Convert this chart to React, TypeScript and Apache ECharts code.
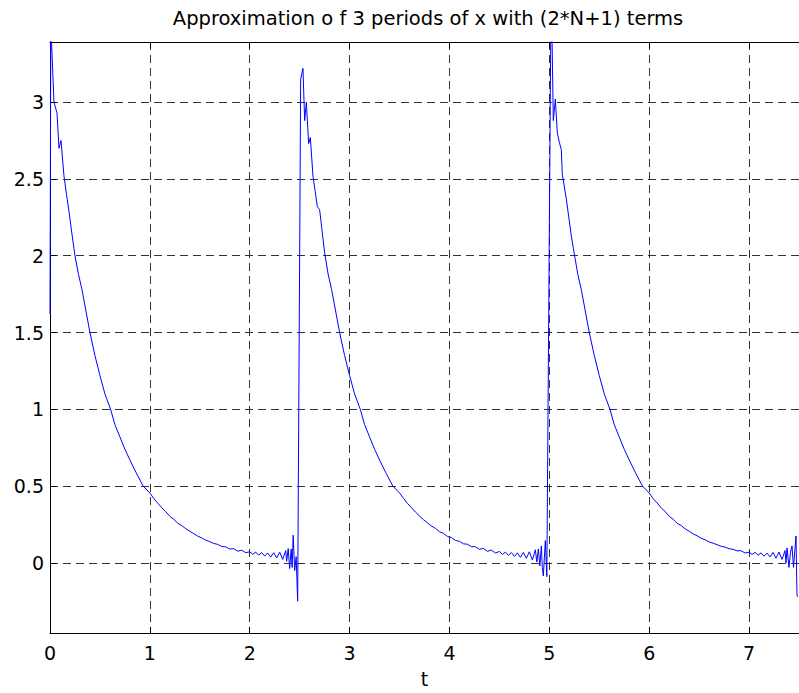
import React, { useEffect, useRef } from "react";
import * as echarts from "echarts";

const titleText = "Approximation o f 3 periods of x with (2*N+1) terms";
const xAxisName = "t";

// [t, x(t)] samples, one array per period
const period1: [number, number][] = [
  [0, 1.62], [0.008, 3.5], [0.02, 3.32], [0.04, 3.0], [0.07, 2.93], [0.09, 2.7],
  [0.11, 2.75], [0.14, 2.52], [0.165, 2.4], [0.19, 2.29], [0.22, 2.14], [0.25, 2.0],
  [0.285, 1.88], [0.32, 1.78], [0.36, 1.64], [0.4, 1.5], [0.45, 1.35], [0.5, 1.22],
  [0.55, 1.1], [0.607, 1.0], [0.65, 0.9], [0.7, 0.82], [0.75, 0.74], [0.8, 0.67],
  [0.86, 0.59], [0.933, 0.5], [1.0, 0.455], [1.04, 0.418], [1.08, 0.388], [1.12, 0.358],
  [1.16, 0.332], [1.2, 0.303], [1.24, 0.283], [1.28, 0.258], [1.32, 0.242], [1.36, 0.222],
  [1.4, 0.205], [1.44, 0.19], [1.48, 0.174], [1.52, 0.162], [1.56, 0.148], [1.6, 0.138],
  [1.64, 0.126], [1.68, 0.12], [1.72, 0.106], [1.76, 0.104], [1.8, 0.09], [1.84, 0.092],
  [1.88, 0.076], [1.92, 0.082], [1.96, 0.066], [2.0, 0.072], [2.03, 0.056], [2.06, 0.07],
  [2.09, 0.05], [2.12, 0.066], [2.15, 0.044], [2.18, 0.064], [2.21, 0.038], [2.24, 0.066],
  [2.27, 0.032], [2.3, 0.07], [2.33, 0.022], [2.36, 0.08], [2.37, 0.01], [2.385, 0.093],
  [2.4, -0.037], [2.415, 0.09], [2.425, -0.03], [2.435, 0.18], [2.45, -0.05], [2.465, 0.04],
  [2.48, -0.25],
];

const period2: [number, number][] = [
  [2.51, 3.15], [2.533, 3.22], [2.55, 2.88], [2.567, 3.0], [2.59, 2.73], [2.607, 2.77],
  [2.633, 2.52], [2.655, 2.42], [2.677, 2.32], [2.7, 2.3], [2.723, 2.17], [2.75, 2.02],
  [2.785, 1.88], [2.82, 1.78], [2.86, 1.64], [2.9, 1.5], [2.95, 1.35], [3.0, 1.22],
  [3.05, 1.1], [3.107, 1.0], [3.15, 0.9], [3.2, 0.82], [3.25, 0.74], [3.3, 0.67],
  [3.36, 0.59], [3.433, 0.5], [3.5, 0.455], [3.54, 0.42], [3.58, 0.386], [3.62, 0.36],
  [3.66, 0.33], [3.7, 0.305], [3.74, 0.281], [3.78, 0.26], [3.82, 0.24], [3.86, 0.224],
  [3.9, 0.203], [3.94, 0.192], [3.98, 0.172], [4.02, 0.164], [4.06, 0.146], [4.1, 0.14],
  [4.14, 0.124], [4.18, 0.121], [4.22, 0.105], [4.26, 0.105], [4.3, 0.088], [4.34, 0.094],
  [4.38, 0.075], [4.42, 0.083], [4.46, 0.064], [4.5, 0.074], [4.53, 0.055], [4.56, 0.07],
  [4.59, 0.048], [4.62, 0.067], [4.65, 0.042], [4.68, 0.065], [4.71, 0.036], [4.74, 0.068],
  [4.77, 0.03], [4.8, 0.072], [4.83, 0.018], [4.86, 0.085], [4.875, 0.005], [4.89, 0.09],
  [4.905, -0.02], [4.92, 0.11], [4.93, -0.03], [4.94, -0.086], [4.96, 0.145], [4.975, -0.09],
];

const period3: [number, number][] = [
  [5.015, 3.5], [5.025, 3.5], [5.04, 2.88], [5.06, 3.02], [5.08, 2.8], [5.1, 2.74],
  [5.12, 2.69], [5.13, 2.53], [5.17, 2.37], [5.22, 2.13], [5.24, 2.05], [5.285, 1.88],
  [5.32, 1.78], [5.36, 1.64], [5.4, 1.5], [5.45, 1.35], [5.5, 1.22], [5.55, 1.1],
  [5.607, 1.0], [5.65, 0.9], [5.7, 0.82], [5.75, 0.74], [5.8, 0.67], [5.86, 0.59],
  [5.933, 0.5], [6.0, 0.455], [6.04, 0.417], [6.08, 0.39], [6.12, 0.357], [6.16, 0.334],
  [6.2, 0.302], [6.24, 0.284], [6.28, 0.257], [6.32, 0.243], [6.36, 0.221], [6.4, 0.206],
  [6.44, 0.188], [6.48, 0.176], [6.52, 0.16], [6.56, 0.15], [6.6, 0.136], [6.64, 0.128],
  [6.68, 0.118], [6.72, 0.108], [6.76, 0.102], [6.8, 0.092], [6.84, 0.088], [6.88, 0.078],
  [6.92, 0.079], [6.96, 0.064], [7.0, 0.07], [7.03, 0.055], [7.06, 0.068], [7.09, 0.05],
  [7.12, 0.065], [7.15, 0.043], [7.18, 0.063], [7.21, 0.038], [7.24, 0.067], [7.27, 0.03],
  [7.3, 0.07], [7.33, 0.022], [7.36, 0.08], [7.37, 0.0], [7.38, 0.097], [7.4, -0.03],
  [7.415, 0.07], [7.43, 0.11], [7.445, -0.03], [7.47, 0.175], [7.48, -0.215], [7.49, -0.22],
];

const FONT = "DejaVu Sans";

export default function App() {
  const ref = useRef<HTMLDivElement>(null);
  useEffect(() => {
    if (!ref.current) return;
    const chart = echarts.init(ref.current, undefined, { renderer: "svg" });
    const data = [...period1, ...period2, ...period3];
    const axisLineStyle = { color: "#000", width: 1 };
    const gridLine = { show: true, lineStyle: { type: [8, 5] as any, color: "#333", width: 1 } };
    chart.setOption({
      animation: false,
      backgroundColor: "#fff",
      title: {
        text: titleText,
        left: 423,
        top: 3,
        textAlign: "center",
        textStyle: { fontSize: 19.5, fontWeight: "normal", fontFamily: FONT, color: "#000" },
      },
      grid: { left: 50, top: 42, width: 751.5, height: 593.5, containLabel: false },
      xAxis: [
        {
          type: "value",
          position: "bottom",
          min: 0,
          max: 7.5,
          interval: 1,
          name: xAxisName,
          nameLocation: "middle",
          nameGap: 36,
          nameTextStyle: { fontSize: 19, fontFamily: FONT, color: "#000" },
          axisLine: { show: true, onZero: false, lineStyle: axisLineStyle },
          axisTick: { show: true, inside: true, length: 6, lineStyle: axisLineStyle },
          axisLabel: { showMaxLabel: false, fontSize: 19, fontFamily: FONT, color: "#000", margin: 10 },
          splitLine: gridLine,
        },
        {
          type: "value",
          position: "top",
          min: 0,
          max: 7.5,
          interval: 1,
          axisLine: { show: true, onZero: false, lineStyle: axisLineStyle },
          axisTick: { show: true, inside: true, length: 6, lineStyle: axisLineStyle },
          axisLabel: { show: false },
          splitLine: { show: false },
        },
      ],
      yAxis: [
        {
          type: "value",
          min: -0.457,
          max: 3.392,
          splitNumber: 8,
          minInterval: 0.5,
          maxInterval: 0.5,
          axisLine: { show: true, onZero: false, lineStyle: axisLineStyle },
          axisTick: { show: true, inside: true, length: 6, lineStyle: axisLineStyle },
          axisLabel: { showMinLabel: false, showMaxLabel: false, fontSize: 19, fontFamily: FONT, color: "#000", margin: 6 },
          splitLine: gridLine,
        },
      ],
      series: [
        {
          type: "line",
          xAxisIndex: 0,
          yAxisIndex: 0,
          data,
          symbol: "none",
          showSymbol: false,
          clip: true,
          lineStyle: { color: "#0000ff", width: 1 },
        },
      ],
    });
    return () => chart.dispose();
  }, []);
  return <div ref={ref} style={{ position: "absolute", left: 0, top: 0, width: 799, height: 693 }} />;
}
